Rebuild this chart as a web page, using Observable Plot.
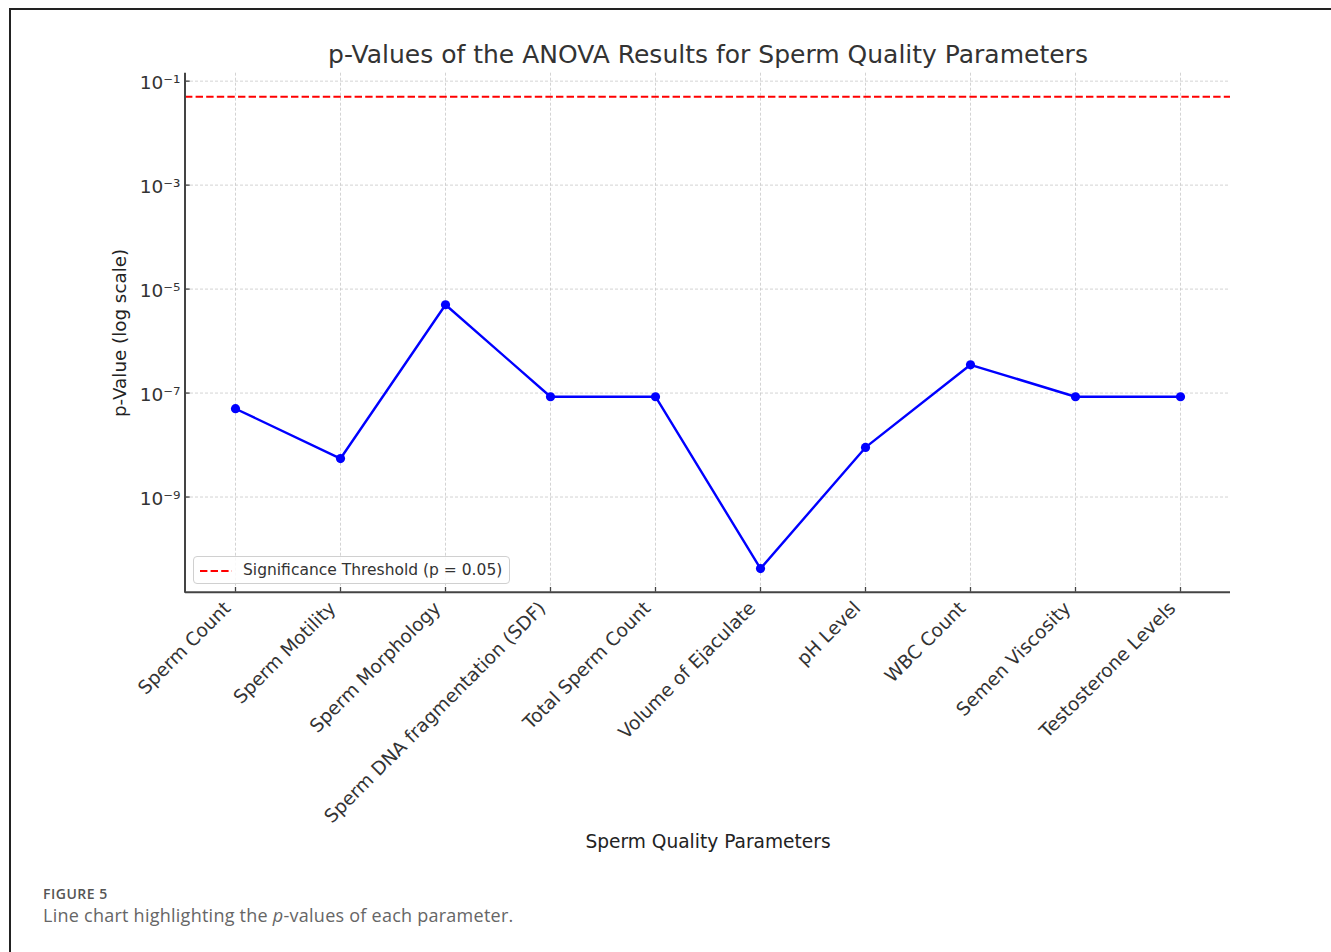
<!DOCTYPE html>
<html><head><meta charset="utf-8">
<script src="https://cdn.jsdelivr.net/npm/d3@7"></script>
<script src="https://cdn.jsdelivr.net/npm/@observablehq/plot@0.6"></script>
<style>
html,body{margin:0;padding:0;background:#fff;width:1331px;height:952px;overflow:hidden;}
#wrap{position:relative;width:1331px;height:952px;overflow:hidden;}
#border{position:absolute;left:9px;top:8px;width:1400px;height:1000px;border:2px solid #222;box-sizing:border-box;}
#chart{position:absolute;left:0;top:0;}
.t{position:absolute;white-space:nowrap;line-height:1;}
#title{left:208px;width:1000px;text-align:center;font-family:"DejaVu Sans";font-size:25px;color:#333;top:41.9px;}
#xlabel{left:208px;width:1000px;text-align:center;font-family:"DejaVu Sans";font-size:18.6px;color:#222;top:833px;}
#ylabel{left:120px;top:333px;transform:translate(-50%,-50%) rotate(-90deg);font-family:"DejaVu Sans";font-size:18.3px;color:#222;}
#fig{left:43px;top:887px;font-family:"Open Sans";font-weight:600;font-size:14px;letter-spacing:0.5px;color:#555;}
#cap{left:43px;top:906px;font-family:"Open Sans";font-size:18px;letter-spacing:0.25px;color:#666;}
#legend{position:absolute;left:193px;top:556px;width:317px;height:28px;box-sizing:border-box;border:1px solid #d0d0d0;border-radius:4px;background:rgba(255,255,255,0.85);}
#legend svg{position:absolute;left:5px;top:12px;}
#legend span{position:absolute;left:49px;top:5.5px;font-family:"DejaVu Sans";font-size:15.5px;color:#333;line-height:1;white-space:nowrap;}
</style></head><body>
<div id="wrap">
<div id="border"></div>
<div id="chart"></div>
<div class="t" id="title">p-Values of the ANOVA Results for Sperm Quality Parameters</div>
<div class="t" id="xlabel">Sperm Quality Parameters</div>
<div class="t" id="ylabel">p-Value (log scale)</div>
<div id="legend"><svg width="34" height="4"><line x1="1" x2="33" y1="2" y2="2" stroke="#ff0000" stroke-width="2" stroke-dasharray="7.4,3.2"/></svg><span>Significance Threshold (p = 0.05)</span></div>
<div class="t" id="fig">FIGURE 5</div>
<div class="t" id="cap">Line chart highlighting the <i>p</i>-values of each parameter.</div>
</div>
<script>
const categories = ["Sperm Count","Sperm Motility","Sperm Morphology","Sperm DNA fragmentation (SDF)","Total Sperm Count","Volume of Ejaculate","pH Level","WBC Count","Semen Viscosity","Testosterone Levels"];
const pValues = [5.0e-8, 5.5e-9, 5.0e-6, 8.5e-8, 8.5e-8, 4.2e-11, 9.0e-9, 3.5e-7, 8.5e-8, 8.5e-8];
const threshold = 0.05;
const yTicks = [1e-1, 1e-3, 1e-5, 1e-7, 1e-9];
const yTickLabels = ["10⁻¹", "10⁻³", "10⁻⁵", "10⁻⁷", "10⁻⁹"];

const data = categories.map((c, i) => ({parameter: c, p: pValues[i]}));
const allVals = [...pValues, threshold];
const logMin = Math.log10(d3.min(allVals)), logMax = Math.log10(d3.max(allVals));
const pad = (logMax - logMin) * 0.05;
const yDomain = [10 ** (logMin - pad), 10 ** (logMax + pad)];

const W = 1331, H = 952, mL = 185, mR = 101, mT = 72.7, mB = H - 591.7;
const frameW = W - mL - mR, frameH = H - mT - mB;
const gridStyle = {stroke: "#c8c8c8", strokeWidth: 0.8, strokeDasharray: "3,2"};
const spine = "#444";

const plot = Plot.plot({
  width: W, height: H,
  marginLeft: mL, marginRight: mR, marginTop: mT, marginBottom: mB,
  style: {fontFamily: "DejaVu Sans", fontSize: "18px", color: "#333", background: "transparent", overflow: "visible"},
  x: {type: "point", domain: categories, padding: 0.45, label: null},
  y: {type: "log", domain: yDomain, label: null},
  marks: [
    Plot.ruleY(yTicks, gridStyle),
    Plot.ruleX(categories, gridStyle),
    Plot.ruleY([threshold], {stroke: "#ff0000", strokeWidth: 2, strokeDasharray: "7.4,3.2"}),
    Plot.line(data, {x: "parameter", y: "p", stroke: "#0000ff", strokeWidth: 2.4}),
    Plot.dot(data, {x: "parameter", y: "p", fill: "#0000ff", r: 4.6}),
    Plot.ruleY(yTicks, {stroke: spine, strokeWidth: 1.3, insetRight: frameW - 4.7}),
    Plot.ruleX(categories, {stroke: spine, strokeWidth: 1.3, insetTop: frameH - 4.7}),
    Plot.ruleY([yDomain[0]], {stroke: spine, strokeWidth: 2}),
    Plot.axisY({ticks: yTicks, tickFormat: d => yTickLabels[yTicks.indexOf(d)], tickSize: 0, tickPadding: 5, dy: 2, label: null, fontSize: 18.5, fill: "#333"}),
    Plot.axisX({tickSize: 0, tickRotate: -45, tickPadding: 13, dx: -8, label: null, fontSize: 18.6, fill: "#333"})
  ]
});
document.getElementById("chart").appendChild(plot);
const xs = plot.scale("x"), ys = plot.scale("y");
d3.select(plot).append("line")
  .attr("x1", xs.range[0]).attr("x2", xs.range[0])
  .attr("y1", ys.range[0] + 1).attr("y2", ys.range[1])
  .attr("stroke", spine).attr("stroke-width", 2);
</script>
</body></html>
